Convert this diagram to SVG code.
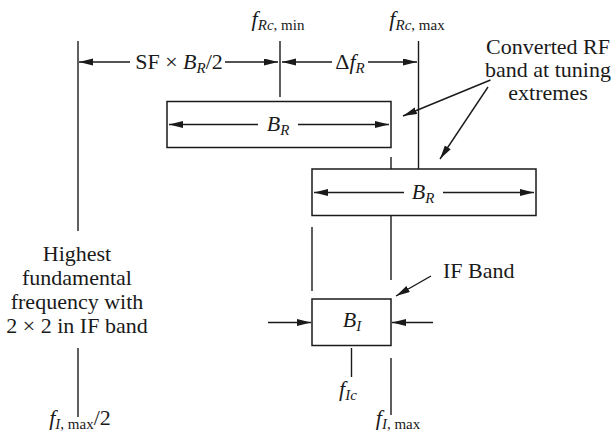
<svg xmlns="http://www.w3.org/2000/svg" width="614" height="433" viewBox="0 0 614 433">
<defs>
<marker id="ah" markerUnits="userSpaceOnUse" markerWidth="15" markerHeight="8" refX="14" refY="3.5" orient="auto">
<path d="M0,0 L14,3.5 L0,7 z" fill="#1a1a1a"/>
</marker>
<style>
.l{stroke:#1a1a1a;stroke-width:1.4;fill:none}
.a{stroke:#1a1a1a;stroke-width:1.4;fill:none;marker-end:url(#ah)}
.b{stroke:#1a1a1a;stroke-width:1.5;fill:#fff}
.i{font-style:italic}
.s{font-size:15px}
</style>
</defs>
<rect width="614" height="433" fill="#fff"/>
<g id="connectors">
<line class="l" x1="78" y1="41" x2="78" y2="231"/>
<line class="l" x1="78" y1="348" x2="78" y2="417"/>
<line class="l" x1="280" y1="41" x2="280" y2="97"/>
<line class="l" x1="418.5" y1="41" x2="418.5" y2="169"/>
<line class="l" x1="391" y1="157" x2="391" y2="169"/>
<line class="l" x1="391" y1="216" x2="391" y2="280"/>
<line class="l" x1="312" y1="227" x2="312" y2="291"/>
<line class="l" x1="351.5" y1="348" x2="351.5" y2="377"/>
<line class="l" x1="391" y1="358" x2="391" y2="415"/>
<line class="a" x1="130" y1="62" x2="79" y2="62"/>
<line class="a" x1="225" y1="62" x2="278" y2="62"/>
<line class="a" x1="332" y1="62" x2="282" y2="62"/>
<line class="a" x1="368" y1="62" x2="417" y2="62"/>
<line class="a" x1="490.5" y1="80" x2="403" y2="116"/>
<line class="a" x1="488" y1="87" x2="440" y2="159"/>
<line class="a" x1="268" y1="322.5" x2="311" y2="322.5"/>
<line class="a" x1="433" y1="322.5" x2="392" y2="322.5"/>
<line class="a" x1="431" y1="276" x2="396" y2="296"/>
</g>
<g font-family="'Liberation Serif', 'Times New Roman', serif" font-size="22" fill="#1a1a1a">
<g id="box1">
<rect class="b" x="167" y="101.5" width="224" height="46"/>
<line class="a" x1="258" y1="124.5" x2="169" y2="124.5"/>
<line class="a" x1="298" y1="124.5" x2="389" y2="124.5"/>
<text x="278" y="131" text-anchor="middle"><tspan class="i">B</tspan><tspan class="i s" dy="4">R</tspan></text>
</g>
<g id="box2">
<rect class="b" x="312" y="169" width="224" height="46.5"/>
<line class="a" x1="404" y1="192.5" x2="314" y2="192.5"/>
<line class="a" x1="443" y1="192.5" x2="534" y2="192.5"/>
<text x="423" y="199" text-anchor="middle"><tspan class="i">B</tspan><tspan class="i s" dy="4">R</tspan></text>
</g>
<g id="box3">
<rect class="b" x="312" y="299" width="79" height="46.5"/>
<text x="352" y="327" text-anchor="middle"><tspan class="i">B</tspan><tspan class="i s" dy="4">I</tspan></text>
</g>
<g id="labels">
<text x="278" y="26" text-anchor="middle"><tspan class="i">f</tspan><tspan class="i s" dy="4">Rc</tspan><tspan class="s">, min</tspan></text>
<text x="417" y="26" text-anchor="middle"><tspan class="i">f</tspan><tspan class="i s" dy="4">Rc</tspan><tspan class="s">, max</tspan></text>
<text x="179" y="69" text-anchor="middle">SF × <tspan class="i">B</tspan><tspan class="i s" dy="4">R</tspan><tspan dy="-4">/2</tspan></text>
<text x="350" y="69" text-anchor="middle">Δ<tspan class="i">f</tspan><tspan class="i s" dy="4">R</tspan></text>
<text x="548" y="54" text-anchor="middle">Converted RF</text>
<text x="548" y="77" text-anchor="middle">band at tuning</text>
<text x="548" y="100" text-anchor="middle">extremes</text>
<text x="443" y="278">IF Band</text>
<text x="77" y="261" text-anchor="middle">Highest</text>
<text x="77" y="285" text-anchor="middle">fundamental</text>
<text x="77" y="309" text-anchor="middle">frequency with</text>
<text x="77" y="333" text-anchor="middle">2 × 2 in IF band</text>
<text x="80" y="425" text-anchor="middle"><tspan class="i">f</tspan><tspan class="i s" dy="4">I</tspan><tspan class="s">, max</tspan><tspan dy="-4">/2</tspan></text>
<text x="348" y="396" text-anchor="middle"><tspan class="i">f</tspan><tspan class="i s" dy="4">Ic</tspan></text>
<text x="398" y="425" text-anchor="middle"><tspan class="i">f</tspan><tspan class="i s" dy="4">I</tspan><tspan class="s">, max</tspan></text>
</g>
</g>
</svg>
